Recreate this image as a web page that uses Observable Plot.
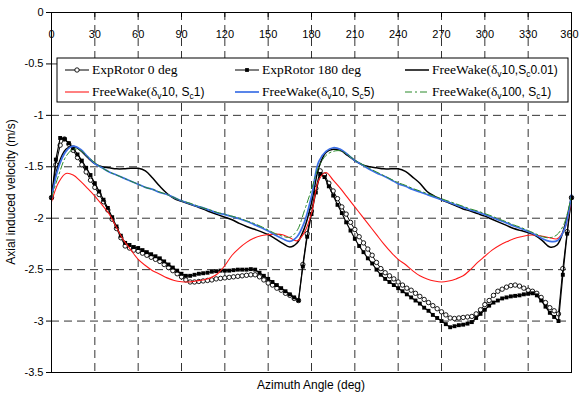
<!DOCTYPE html>
<html><head><meta charset="utf-8">
<script src="https://cdn.jsdelivr.net/npm/d3@7"></script>
<script src="https://cdn.jsdelivr.net/npm/@observablehq/plot@0.6"></script>
<style>body{margin:0;background:#fff}</style>
</head><body><div id="chart"></div>
<script>
const xTicks = [0,30,60,90,120,150,180,210,240,270,300,330,360];
const yTicks = [0,-0.5,-1,-1.5,-2,-2.5,-3,-3.5];

// Experimental data, sampled every 3 degrees
const expAngles = d3.range(0, 361, 3);
const exp0 = [
-1.80,-1.48,-1.29,-1.23,-1.28,-1.34,-1.41,-1.48,-1.55,-1.63,
-1.70,-1.77,-1.84,-1.92,-2.01,-2.10,-2.19,-2.27,-2.29,-2.31,
-2.32,-2.34,-2.36,-2.38,-2.40,-2.42,-2.45,-2.48,-2.51,-2.54,
-2.57,-2.60,-2.62,-2.62,-2.615,-2.61,-2.605,-2.60,-2.59,-2.585,
-2.58,-2.575,-2.57,-2.565,-2.56,-2.555,-2.55,-2.55,-2.57,-2.60,
-2.63,-2.65,-2.68,-2.70,-2.73,-2.75,-2.78,-2.80,-2.45,-2.15,
-1.93,-1.71,-1.54,-1.58,-1.66,-1.735,-1.81,-1.89,-1.96,-2.04,
-2.11,-2.18,-2.24,-2.30,-2.36,-2.43,-2.49,-2.53,-2.56,-2.59,
-2.62,-2.65,-2.68,-2.70,-2.73,-2.76,-2.79,-2.82,-2.85,-2.88,
-2.91,-2.94,-2.97,-2.975,-2.97,-2.965,-2.96,-2.955,-2.93,-2.89,
-2.84,-2.80,-2.75,-2.71,-2.69,-2.67,-2.655,-2.65,-2.66,-2.68,
-2.70,-2.71,-2.73,-2.77,-2.82,-2.87,-2.90,-2.93,-2.49,-2.13,
-1.80];
const exp180 = [
-1.80,-1.43,-1.22,-1.23,-1.27,-1.32,-1.38,-1.44,-1.51,-1.58,
-1.66,-1.74,-1.82,-1.90,-1.99,-2.08,-2.17,-2.24,-2.26,-2.28,
-2.29,-2.31,-2.33,-2.35,-2.37,-2.39,-2.42,-2.45,-2.48,-2.51,
-2.54,-2.56,-2.56,-2.55,-2.54,-2.535,-2.53,-2.52,-2.515,-2.51,
-2.51,-2.51,-2.505,-2.50,-2.50,-2.50,-2.495,-2.50,-2.53,-2.56,
-2.59,-2.62,-2.65,-2.68,-2.71,-2.74,-2.77,-2.80,-2.47,-2.18,
-1.96,-1.75,-1.57,-1.60,-1.69,-1.78,-1.87,-1.95,-2.04,-2.12,
-2.20,-2.27,-2.33,-2.39,-2.44,-2.50,-2.55,-2.59,-2.62,-2.65,
-2.68,-2.71,-2.74,-2.77,-2.80,-2.83,-2.87,-2.90,-2.94,-2.97,
-3.00,-3.03,-3.06,-3.05,-3.04,-3.035,-3.025,-3.01,-2.97,-2.93,
-2.89,-2.85,-2.82,-2.80,-2.78,-2.77,-2.76,-2.755,-2.75,-2.74,
-2.735,-2.73,-2.75,-2.80,-2.86,-2.92,-2.96,-3.00,-2.55,-2.15,
-1.80];

// Free wake computations, sampled every 5 degrees
const fwAngles = d3.range(0, 361, 5);
const fwSc001 = [
-1.80,-1.47,-1.33,-1.30,-1.34,-1.41,-1.47,-1.50,-1.51,-1.52,
-1.52,-1.515,-1.515,-1.54,-1.61,-1.69,-1.76,-1.81,-1.835,-1.86,
-1.885,-1.91,-1.94,-1.965,-1.99,-2.015,-2.05,-2.08,-2.105,-2.13,
-2.16,-2.20,-2.245,-2.28,-2.24,-2.10,-1.85,-1.51,-1.36,-1.33,
-1.34,-1.39,-1.44,-1.48,-1.50,-1.51,-1.52,-1.52,-1.52,-1.545,
-1.60,-1.66,-1.74,-1.785,-1.82,-1.85,-1.88,-1.91,-1.93,-1.955,
-1.98,-2.01,-2.04,-2.07,-2.10,-2.12,-2.14,-2.17,-2.22,-2.28,
-2.26,-2.09,-1.79];
const fwSc1 = [
-1.84,-1.65,-1.565,-1.58,-1.64,-1.71,-1.785,-1.87,-1.96,-2.09,
-2.215,-2.31,-2.40,-2.46,-2.51,-2.545,-2.58,-2.605,-2.617,-2.62,
-2.61,-2.60,-2.58,-2.54,-2.46,-2.36,-2.29,-2.235,-2.195,-2.17,
-2.16,-2.155,-2.16,-2.19,-2.22,-2.14,-1.95,-1.63,-1.555,-1.63,
-1.71,-1.80,-1.89,-1.98,-2.07,-2.16,-2.25,-2.33,-2.40,-2.45,
-2.51,-2.56,-2.59,-2.61,-2.62,-2.61,-2.59,-2.56,-2.50,-2.43,
-2.37,-2.31,-2.265,-2.23,-2.20,-2.18,-2.165,-2.165,-2.175,-2.19,
-2.20,-2.11,-1.82];
const fwSc5 = [
-1.80,-1.50,-1.35,-1.30,-1.33,-1.40,-1.47,-1.51,-1.55,-1.58,
-1.61,-1.64,-1.67,-1.70,-1.72,-1.75,-1.77,-1.80,-1.83,-1.855,
-1.88,-1.90,-1.925,-1.95,-1.965,-1.985,-2.005,-2.03,-2.06,-2.09,
-2.125,-2.165,-2.20,-2.225,-2.18,-2.04,-1.785,-1.45,-1.35,-1.315,
-1.33,-1.38,-1.44,-1.48,-1.525,-1.56,-1.59,-1.625,-1.665,-1.69,
-1.72,-1.745,-1.77,-1.795,-1.82,-1.845,-1.87,-1.895,-1.92,-1.94,
-1.965,-1.99,-2.02,-2.045,-2.075,-2.10,-2.13,-2.16,-2.20,-2.225,
-2.22,-2.11,-1.77];
const fwDv100 = [
-1.80,-1.58,-1.40,-1.33,-1.34,-1.40,-1.46,-1.51,-1.55,-1.58,
-1.61,-1.64,-1.67,-1.70,-1.72,-1.745,-1.77,-1.80,-1.83,-1.85,
-1.875,-1.90,-1.92,-1.945,-1.96,-1.98,-2.00,-2.025,-2.05,-2.08,
-2.115,-2.15,-2.175,-2.185,-2.12,-1.93,-1.72,-1.50,-1.39,-1.35,
-1.345,-1.38,-1.435,-1.475,-1.515,-1.55,-1.585,-1.62,-1.655,-1.68,
-1.71,-1.735,-1.76,-1.785,-1.81,-1.835,-1.86,-1.885,-1.91,-1.93,
-1.955,-1.98,-2.01,-2.035,-2.065,-2.09,-2.12,-2.15,-2.18,-2.19,
-2.16,-2.05,-1.78];

const rows = (xs, ys) => xs.map((x, i) => ({angle: x, v: ys[i]}));
const e0 = rows(expAngles, exp0);
const e180 = rows(expAngles, exp180);

const W = 579, H = 395, mT = 12, mB = 23, mL = 51, mR = 8;
const innerH = H - mT - mB;
const gridStyle = {stroke: "#333", strokeOpacity: 1, strokeWidth: 1, strokeDasharray: "8,5"};

const chart = Plot.plot({
  width: W, height: H,
  marginTop: mT, marginBottom: mB, marginLeft: mL, marginRight: mR,
  style: {fontFamily: "'Liberation Sans', Arial, sans-serif", fontSize: "11px", background: "white", overflow: "visible"},
  x: {domain: [0, 360], axis: null},
  y: {domain: [-3.5, 0], axis: null},
  marks: [
    Plot.gridX({ticks: xTicks.slice(1, -1), ...gridStyle}),
    Plot.gridY({ticks: yTicks.slice(1, -1), ...gridStyle}),
    Plot.line(e0, {x: "angle", y: "v", stroke: "black", strokeWidth: 1}),
    Plot.dot(e0, {x: "angle", y: "v", r: 2.2, fill: "white", stroke: "black", strokeWidth: 0.9}),
    Plot.line(e180, {x: "angle", y: "v", stroke: "black", strokeWidth: 1.2}),
    Plot.dot(e180, {x: "angle", y: "v", r: 2.2, symbol: "square", fill: "black"}),
    Plot.line(rows(fwAngles, fwSc001), {x: "angle", y: "v", stroke: "black", strokeWidth: 1.5, curve: "catmull-rom"}),
    Plot.line(rows(fwAngles, fwSc1), {x: "angle", y: "v", stroke: "#ff1a1a", strokeWidth: 1.1, curve: "catmull-rom"}),
    Plot.line(rows(fwAngles, fwSc5), {x: "angle", y: "v", stroke: "#3b6fe6", strokeWidth: 1.7, curve: "catmull-rom"}),
    Plot.line(rows(fwAngles, fwDv100), {x: "angle", y: "v", stroke: "#2a8a2a", strokeWidth: 1, strokeDasharray: "7,3,2,3", curve: "catmull-rom"}),
    Plot.frame({stroke: "black", strokeWidth: 1}),
    Plot.axisY({ticks: yTicks, tickSize: 5, tickPadding: 3, tickFormat: d => String(d), fontSize: 11, label: null}),
    Plot.tickX(xTicks, {x: d => d, stroke: "black", insetBottom: innerH - 5}),
    Plot.text(xTicks.slice(0, -1), {x: d => d, text: d => String(d), frameAnchor: "top", dy: 18, fontSize: 11}),
    Plot.text(xTicks.slice(-1), {x: d => d, text: d => String(d), frameAnchor: "top", dy: 18, dx: -2, fontSize: 11})
  ]
});
document.getElementById("chart").appendChild(chart);

// Axis titles and legend
const svg = d3.select(chart);
const SERIF = "'Liberation Serif', 'Times New Roman', serif";
const SANS = "'Liberation Sans', Arial, sans-serif";
svg.append("text").attr("x", 12).attr("y", mT + innerH / 2)
  .attr("transform", `rotate(-90,12,${mT + innerH / 2})`)
  .attr("text-anchor", "middle").attr("dominant-baseline", "middle")
  .attr("font-family", SANS).attr("font-size", 12)
  .text("Axial induced velocity (m/s)");
svg.append("text").attr("x", mL + (W - mL - mR) / 2).attr("y", 389)
  .attr("text-anchor", "middle")
  .attr("font-family", SANS).attr("font-size", 12)
  .text("Azimuth Angle (deg)");

const lg = svg.append("g").attr("text-anchor", "start");
lg.append("rect").attr("x", 57).attr("y", 58).attr("width", 511).attr("height", 44)
  .attr("fill", "white").attr("stroke", "black").attr("stroke-width", 1);

const legendItems = [
  {col: 0, row: 0, kind: "open", parts: [["ExpRotor 0 deg", "serif"]]},
  {col: 1, row: 0, kind: "square", parts: [["ExpRotor 180 deg", "serif"]]},
  {col: 2, row: 0, kind: "black", parts: [["FreeWake(δ", "serif"], ["v", "sub"], ["10,S", "sans"], ["c", "sub"], ["0.01)", "sans"]]},
  {col: 0, row: 1, kind: "red", parts: [["FreeWake(δ", "serif"], ["v", "sub"], ["10, S", "sans"], ["c", "sub"], ["1)", "sans"]]},
  {col: 1, row: 1, kind: "blue", parts: [["FreeWake(δ", "serif"], ["v", "sub"], ["10, S", "sans"], ["c", "sub"], ["5)", "sans"]]},
  {col: 2, row: 1, kind: "green", parts: [["FreeWake(δ", "serif"], ["v", "sub"], ["100, S", "sans"], ["c", "sub"], ["1)", "sans"]]}
];
const colX = [65, 235, 405];
const rowY = [70, 92];
for (const it of legendItems) {
  const x0 = colX[it.col], x1 = x0 + 24, y = rowY[it.row];
  const ln = lg.append("line").attr("x1", x0).attr("x2", x1).attr("y1", y).attr("y2", y);
  if (it.kind === "open" || it.kind === "square") {
    ln.attr("stroke", "black").attr("stroke-width", 1);
    if (it.kind === "open") lg.append("circle").attr("cx", (x0 + x1) / 2).attr("cy", y).attr("r", 2.2).attr("fill", "white").attr("stroke", "black").attr("stroke-width", 0.9);
    else lg.append("rect").attr("x", (x0 + x1) / 2 - 1.9).attr("y", y - 1.9).attr("width", 3.8).attr("height", 3.8).attr("fill", "black");
  } else if (it.kind === "black") {
    ln.attr("stroke", "black").attr("stroke-width", 1.5);
  } else if (it.kind === "red") {
    ln.attr("stroke", "#ff1a1a").attr("stroke-width", 1.1);
  } else if (it.kind === "blue") {
    ln.attr("stroke", "#3b6fe6").attr("stroke-width", 1.7);
  } else {
    ln.attr("stroke", "#2a8a2a").attr("stroke-width", 1).attr("stroke-dasharray", "7,3,2,3");
  }
  const t = lg.append("text").attr("x", x1 + 3).attr("y", y + 4).attr("text-anchor", "start")
    .attr("font-size", 13.5).attr("font-family", SERIF).attr("fill", "black");
  let prevSub = false;
  for (const [s, kind] of it.parts) {
    const ts = t.append("tspan").text(s);
    if (kind === "sub") { ts.attr("font-family", SANS).attr("font-size", 8.5).attr("dy", 3); prevSub = true; }
    else {
      ts.attr("font-family", kind === "sans" ? SANS : SERIF).attr("font-size", kind === "sans" ? 12 : 13.5);
      if (prevSub) ts.attr("dy", -3);
      prevSub = false;
    }
  }
}
</script>
</body></html>
